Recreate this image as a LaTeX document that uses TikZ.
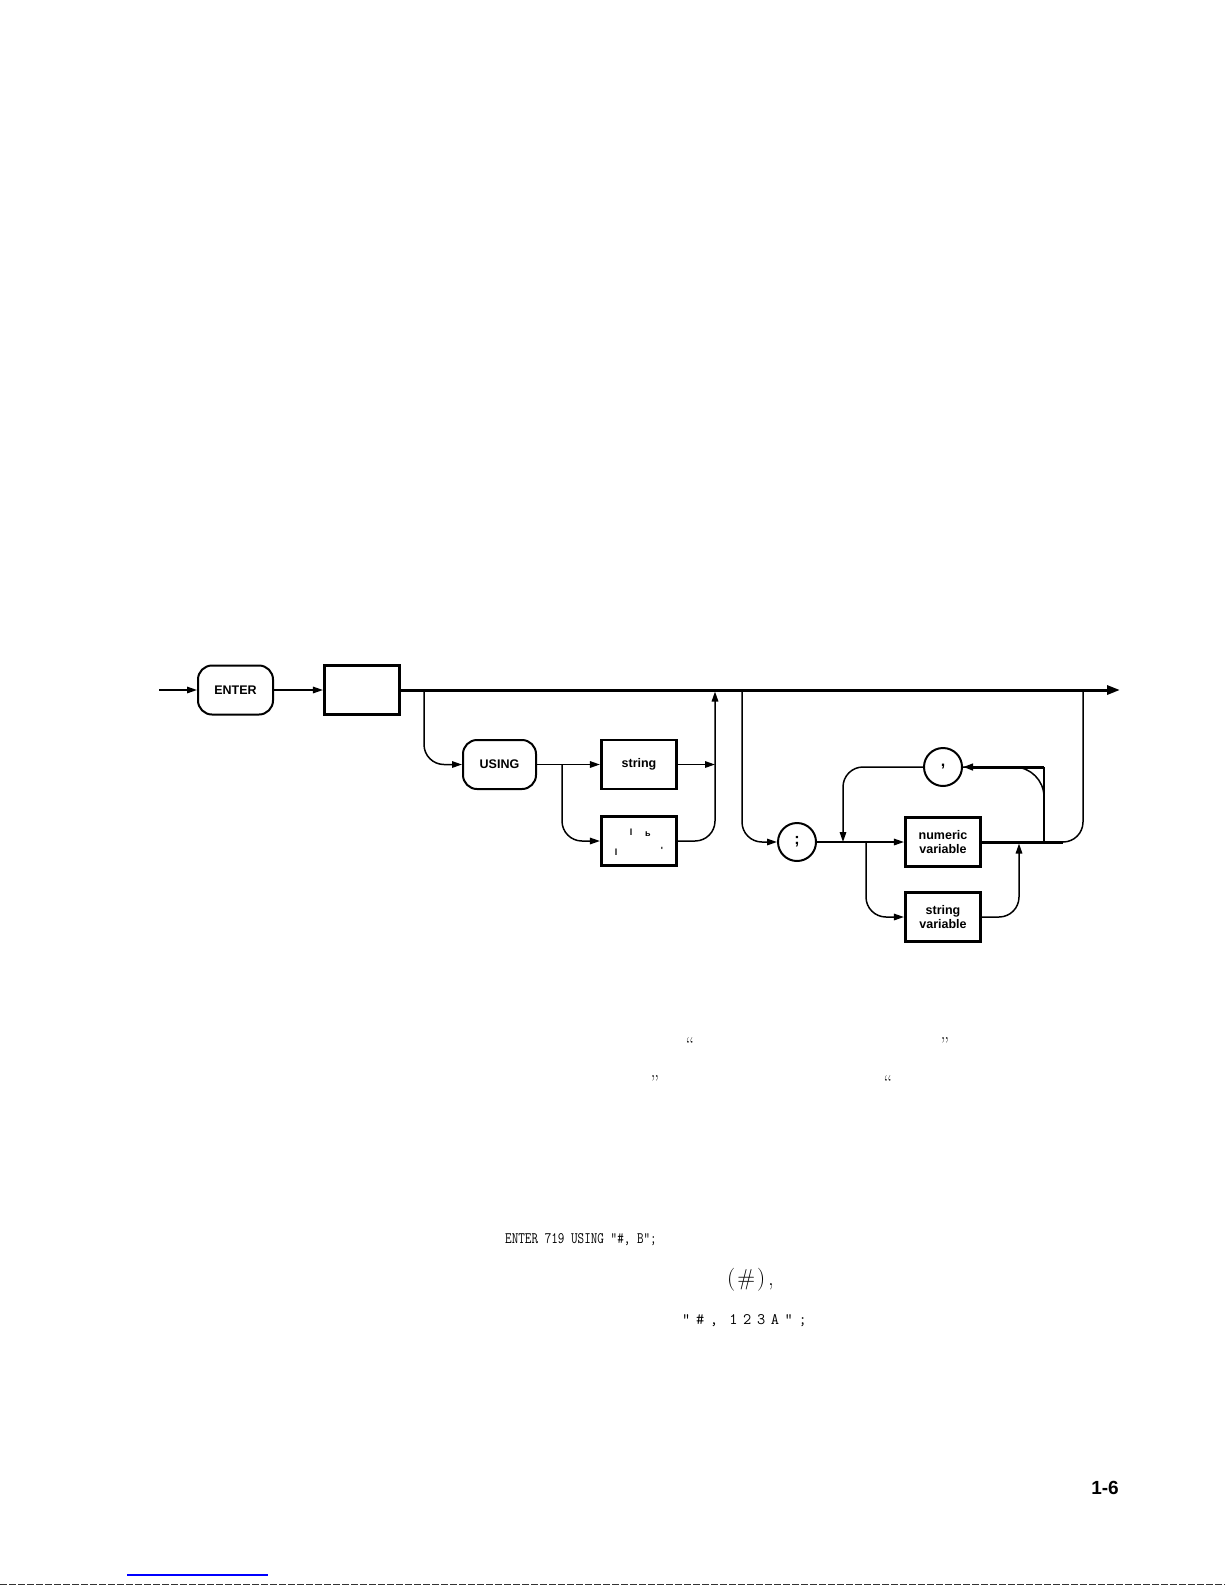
\documentclass[tikz,border=0pt]{standalone}
\usepackage{fontspec}
\newfontfamily\diagfont{Liberation Sans}
\usetikzlibrary{arrows.meta}
\tikzset{
  ln/.style={line width=1.5pt},
  mainln/.style={line width=3pt},
  arr/.style={-{Triangle[length=10pt,width=6.5pt]}},
  bigarr/.style={-{Triangle[length=13pt,width=9pt]}},
  rc/.style={rounded corners=20pt},
  lbl/.style={font=\diagfont\bfseries\fontsize{12.5}{15}\selectfont},
  rbox/.style={lbl, draw, line width=2pt, rounded corners=14pt, minimum width=75pt, minimum height=49pt, inner sep=0pt},
  sbox/.style={lbl, draw, line width=2.6pt, minimum width=75.5pt, minimum height=49pt, inner sep=0pt, align=center},
  circ/.style={draw, circle, line width=2pt, minimum size=38pt, inner sep=0pt, font=\diagfont\bfseries\fontsize{16}{18}\selectfont},
  garb/.style={inner sep=0pt, font=\diagfont\bfseries\fontsize{9}{10}\selectfont},
  quot/.style={inner sep=0pt, anchor=base, font=\fontsize{20}{22}\selectfont},
  code/.style={inner sep=0pt, anchor=base west, font=\ttfamily\fontsize{16}{18}\selectfont},
}
\newcommand{\gp}{\hspace{5.6pt}}
\begin{document}
\begin{tikzpicture}[x=1pt,y=-1pt]
\useasboundingbox (0,0) rectangle (1225,1585);
% nodes
\coordinate (start) at (159,690);
\node[rbox] (enter) at (235.5,690) {ENTER};
\node[sbox] (blank) at (362,690) {};
\coordinate (end) at (1120,690);
\node[rbox, minimum width=73pt] (using) at (499.5,764.5) {USING};
\node[sbox] (str) at (639,764.5) {string};
\node[sbox] (lit) at (639,841) {};
\node[garb] (g1) at (631,832) {l};
\node[garb] (g2) at (648,834) {ь};
\node[garb] (g3) at (616,852) {l};
\node[garb] (g4) at (662,850) {'};
\node[circ] (semi) at (797,842) {;};
\node[sbox] (num) at (943,842) {numeric\\[-1pt]variable};
\node[sbox] (svar) at (943,917) {string\\[-1pt]variable};
\node[circ] (comma) at (943,767) {,};
% junctions
\coordinate (j1) at (424,690);
\coordinate (j2) at (562,764.5);
\coordinate (v1) at (715,764.5);
\coordinate (v1top) at (715,691.5);
\coordinate (j3) at (742,690);
\coordinate (j4) at (843,842);
\coordinate (j5) at (866,842);
\coordinate (j6) at (1019,843.5);
\coordinate (j7) at (1083,690);
\coordinate (j8) at (1044,842);
\coordinate (j9) at (1044,767);
\coordinate (j10) at (1063,842);
% connectors
\draw[ln,arr] (start) -- (enter.west);
\draw[ln,arr] (enter.east) -- (blank.west);
\draw[mainln,bigarr] (blank.east) -- (end);
\draw[ln,arr,rc] (j1) |- (using.west);
\draw[ln,arr] (using.east) -- (str.west);
\draw[ln,arr,rc] (j2) |- (lit.west);
\draw[ln,arr] (str.east) -- (v1);
\draw[ln,arr,rc] (lit.east) -| (v1top);
\draw[ln,arr,rc] (j3) |- (semi.west);
\draw[ln,arr] (semi.east) -- (num.west);
\draw[ln,arr,rc] (j5) |- (svar.west);
\draw[ln,arr,rc] (svar.east) -| (j6);
\draw[ln,rc] (num.east) -| (j7);
\draw[mainln] (num.east) -- (j10);
\draw[ln] (j8) -- (j9);
\draw[ln,rounded corners=30pt] (j8) |- (comma.east);
\draw[mainln,arr] (j9) -- (comma.east);
\draw[ln,arr,rc] (comma.west) -| (j4);
% text below
\node[quot] (q1) at (690,1051) {``};
\node[quot] (q2) at (945,1051) {''};
\node[quot] (q3) at (655,1089) {''};
\node[quot] (q4) at (888,1089) {``};
\node[code] (ex1) at (505,1243) {\scalebox{0.8}[1]{ENTER 719 USING "\#, B";}};
\node[inner sep=0pt, anchor=west, font=\fontsize{23}{26}\selectfont] (hash) at (727,1280) {(\hspace{2pt}\#\hspace{2pt})\hspace{3pt},};
\node[code] (ex2) at (682,1324) {"\gp\#\gp,\gp\gp1\gp2\gp3\gp A\gp"\gp;};
\node[inner sep=0pt, font=\diagfont\bfseries\fontsize{19}{22}\selectfont] (pg) at (1105,1488) {1-6};
% page artefacts
\draw[blue, line width=1.5pt] (127,1575) -- (268,1575);
\draw[black!80, line width=1.2pt, dash pattern=on 7pt off 2pt] (0,1584.3) -- (1225,1584.3);
\end{tikzpicture}
\end{document}
